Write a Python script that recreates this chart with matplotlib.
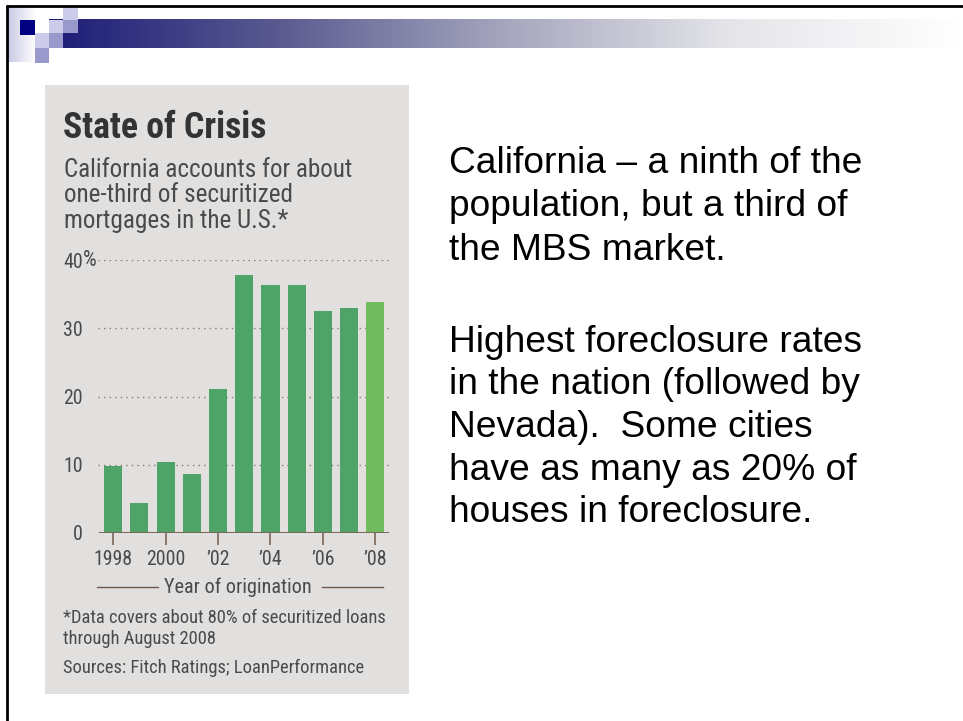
import matplotlib
matplotlib.use("Agg")
import matplotlib.pyplot as plt
import numpy as np
from matplotlib.patches import Rectangle
from matplotlib.colors import LinearSegmentedColormap
from matplotlib import font_manager as fm
from matplotlib.transforms import IdentityTransform

# ---- data ----
years = [1998, 1999, 2000, 2001, 2002, 2003, 2004, 2005, 2006, 2007, 2008]
share_pct = [9.8, 4.4, 10.4, 8.7, 21.1, 37.8, 36.4, 36.3, 32.6, 33.0, 33.9]
tick_years = [1998, 2000, 2002, 2004, 2006, 2008]
tick_labels = ["1998", "2000", "\u201902", "\u201904", "\u201906", "\u201908"]
y_ticks = [0, 10, 20, 30, 40]
y_labels = ["0", "10", "20", "30", "40"]
title = "State of Crisis"
subtitle = ["California accounts for about", "one-third of securitized", "mortgages in the U.S.*"]
xlabel = "Year of origination"
footnotes = ["*Data covers about 80% of securitized loans", "through August 2008"]
sources = "Sources: Fitch Ratings; LoanPerformance"
para1 = ["California \u2013 a ninth of the", "population, but a third of", "the MBS market."]
para2 = ["Highest foreclosure rates", "in the nation (followed by", "Nevada).  Some cities",
         "have as many as 20% of", "houses in foreclosure."]

W, H = 963, 721
fig = plt.figure(figsize=(W / 100, H / 100), dpi=100)
fig.patch.set_facecolor("white")

available = {f.name for f in fm.fontManager.ttflist}
cfont = [f for f in ["Roboto Condensed", "Open Sans Condensed", "DejaVu Sans Condensed", "Lato"] if f in available] + ["DejaVu Sans"]
rfont = ["Liberation Sans", "DejaVu Sans"]

bg = fig.add_axes([0, 0, 1, 1], zorder=0)
bg.set_xlim(0, W)
bg.set_ylim(H, 0)
bg.axis("off")

# header gradient bar
cmap = LinearSegmentedColormap.from_list("hdr", ["#1c1c78", "#5a5a90", "#a6a6be", "#e6e6ea", "#ffffff"])
grad = np.linspace(0, 1, 512).reshape(1, -1)
bg.imshow(grad, cmap=cmap, extent=[49, 963, 48, 19], aspect="auto", zorder=1)
cmap2 = LinearSegmentedColormap.from_list("strip", ["#c8c8e4", "#ffffff"])
bg.imshow(grad, cmap=cmap2, extent=[7, 36, 62, 7], aspect="auto", zorder=1)
light, med, navy = "#ccccea", "#9999cc", "#000080"
for (x0, y0, x1, y1, c) in [
    (20, 20, 35, 35, navy),
    (35, 33, 49, 48, light),
    (35, 48, 49, 63, med),
    (49, 33, 63, 48, med),
    (49, 20, 63, 33, light),
    (63, 20, 78, 33, med),
    (63, 7, 78, 20, light),
]:
    bg.add_patch(Rectangle((x0, y0), x1 - x0, y1 - y0, color=c, lw=0, zorder=2))
bg.plot([6, 963], [6, 6], color="black", lw=2, zorder=3, solid_capstyle="butt")
bg.plot([6.5, 6.5], [5, 721], color="black", lw=2, zorder=3, solid_capstyle="butt")

# gray panel
bg.add_patch(Rectangle((45, 85), 364, 609, color="#e2e0de", lw=0, zorder=1))

dark = "#333333"
gray = "#4a4a4a"
fit_groups = []

t_title = bg.text(63, 138, title, fontsize=21, fontweight="bold", color=dark, family=cfont,
                  va="baseline", ha="left")
fit_groups.append(([t_title], 204))
subs = [bg.text(64, 177 + 25.5 * i, line, fontsize=14.5, color=gray, family=cfont, va="baseline", ha="left")
        for i, line in enumerate(subtitle)]
fit_groups.append((subs, 289))
t_xl = bg.text(238, 593, xlabel, fontsize=14, color=gray, family=cfont, va="baseline", ha="center")
fit_groups.append(([t_xl], 148))
bg.plot([97, 158], [587, 587], color="#6b5a50", lw=1)
bg.plot([322, 383], [587, 587], color="#6b5a50", lw=1)
foots = [bg.text(63, 623 + 21 * i, line, fontsize=12.5, color=gray, family=cfont, va="baseline", ha="left")
         for i, line in enumerate(footnotes)]
foots.append(bg.text(63, 673, sources, fontsize=12.5, color=gray, family=cfont, va="baseline", ha="left"))
fit_groups.append((foots, 324))

paras = [bg.text(449, 173 + 43.5 * i, line, fontsize=26, color="black", family=rfont, va="baseline", ha="left")
         for i, line in enumerate(para1)]
paras += [bg.text(449, 352 + 42.5 * i, line, fontsize=26, color="black", family=rfont, va="baseline", ha="left")
          for i, line in enumerate(para2)]
fit_groups.append((paras, 413))

# chart axes
left_px, right_px, base_px, top_px = 98, 390, 533, 260
ax = fig.add_axes([left_px / W, 1 - base_px / H, (right_px - left_px) / W, (base_px - top_px) / H], zorder=2)
ax.patch.set_alpha(0)
colors = ["#4ea467"] * (len(years) - 1) + ["#70bb5e"]
ax.bar(years, share_pct, width=0.69, color=colors, zorder=3)
ax.set_xlim(1997.42, 2008.56)
ax.set_ylim(0, 40)
for s in ax.spines.values():
    s.set_visible(False)
for yv in y_ticks[1:]:
    ax.axhline(yv, color="#8a7a70", lw=1, linestyle=(0, (1, 3)), zorder=1)
ax.axhline(0, xmin=0.007, xmax=0.993, color="#7a6658", lw=1.4, zorder=4)
ax.set_yticks(y_ticks, y_labels)
ax.set_xticks(tick_years, tick_labels)
ax.tick_params(axis="y", length=0, pad=11, labelsize=13, labelcolor=gray)
ax.tick_params(axis="x", length=8.5, width=1.2, color="#7a6658", direction="out", pad=4,
               labelsize=13, labelcolor=gray)
for lab in ax.get_xticklabels() + ax.get_yticklabels():
    lab.set_family(cfont)

# fit font sizes to widths measured on the reference
fig.canvas.draw()
r = fig.canvas.get_renderer()
for texts, target in fit_groups:
    w = texts[0].get_window_extent(r).width
    fs = texts[0].get_fontsize() * target / w
    for t in texts:
        t.set_fontsize(fs)
w = ax.get_xticklabels()[0].get_window_extent(r).width
tfs = 13 * 39 / w
ax.tick_params(axis="both", labelsize=tfs)

# "%" following the top y label
fig.canvas.draw()
ylab_bb = ax.get_yticklabels()[-1].get_window_extent(r)
fig.text(ylab_bb.x1 + 0.5, ylab_bb.y0, "%", transform=IdentityTransform(), fontsize=tfs * 1.1,
         color=gray, family=cfont, ha="left", va="bottom", zorder=5)

fig.savefig("out.png", dpi=100)
